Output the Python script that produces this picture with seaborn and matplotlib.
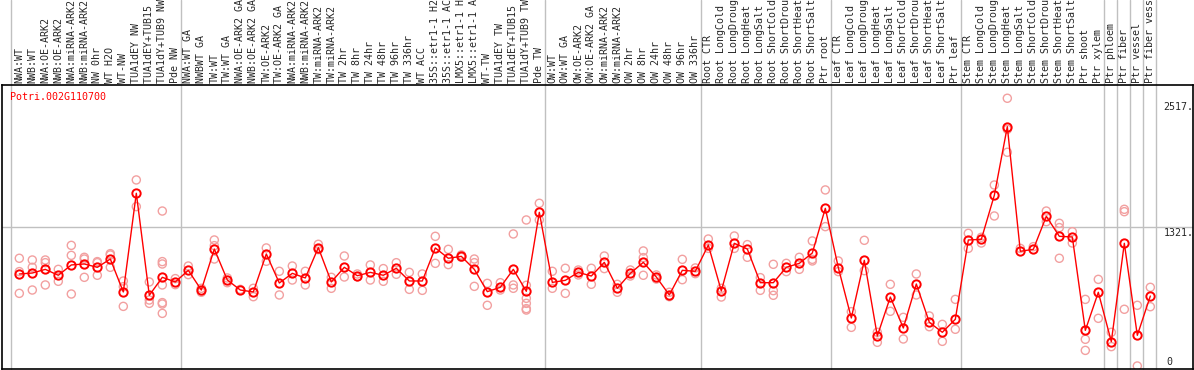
import matplotlib
matplotlib.use("Agg")
import matplotlib.pyplot as plt
import numpy as np
import pandas as pd
import seaborn as sns

# sample names (left to right)
samples = [
    "NWA:WT", "NWB:WT", "NWA:OE-ARK2", "NWB:OE-ARK2", "NWA:miRNA-ARK2", "NWB:miRNA-ARK2",
    "NW 0hr", "WT H2O", "WT-NW", "TUA1dEY NW", "TUA1dEY+TUB15 NW", "TUA1dY+TUB9 NW", "Pde NW",
    "NWA:WT GA", "NWBWT GA", "TW:WT", "TW:WT GA", "NWA:OE-ARK2 GA", "NWB:OE-ARK2 GA",
    "TW:OE-ARK2", "TW:OE-ARK2 GA", "NWA:miRNA-ARK2", "NWB:miRNA-ARK2", "TW:miRNA-ARK2",
    "TW:miRNA-ARK2", "TW 2hr", "TW 8hr", "TW 24hr", "TW 48hr", "TW 96hr", "TW 336hr",
    "WT ACC", "35S::etr1-1 H2O", "35S::etr1-1 ACC", "LMX5::etr1-1 H2O", "LMX5::etr1-1 ACC",
    "WT-TW", "TUA1dEY TW", "TUA1dEY+TUB15 TW", "TUA1dY+TUB9 TW", "Pde TW",
    "OW:WT", "OW:WT GA", "OW:OE-ARK2", "OW:OE-ARK2 GA", "OW:miRNA-ARK2", "OW:miRNA-ARK2",
    "OW 2hr", "OW 8hr", "OW 24hr", "OW 48hr", "OW 96hr", "OW 336hr",
    "Root CTR", "Root LongCold", "Root LongDrought", "Root LongHeat", "Root LongSalt",
    "Root ShortCold", "Root ShortDrought", "Root ShortHeat", "Root ShortSalt", "Ptr root",
    "Leaf CTR", "Leaf LongCold", "Leaf LongDrought", "Leaf LongHeat", "Leaf LongSalt",
    "Leaf ShortCold", "Leaf ShortDrought", "Leaf ShortHeat", "Leaf ShortSalt", "Ptr leaf",
    "Stem CTR", "Stem LongCold", "Stem LongDrought", "Stem LongHeat", "Stem LongSalt",
    "Stem ShortCold", "Stem ShortDrought", "Stem ShortHeat", "Stem ShortSalt", "Ptr shoot",
    "Ptr xylem", "Ptr phloem", "Ptr fiber", "Ptr vessel", "Ptr fiber vessel",
]

# mean expression per sample
means = [
    883, 892, 926, 871, 967, 976, 945, 1022, 716, 1633, 685, 852, 809,
    917, 734, 1115, 827, 734, 716, 1069, 799, 889, 846, 1128, 809, 945, 867, 898,
    871, 936, 818, 818, 1125, 1029, 1047, 926, 719, 759, 926, 722, 1456,
    805, 824, 898, 864, 991, 750, 889, 991, 855, 688, 917, 908,
    1152, 725, 1168, 1115, 802, 802, 945, 982, 1078, 1493,
    942, 474, 1010, 307, 669, 381, 790, 434, 341, 462,
    1199, 1205, 1614, 2252, 1094, 1112, 1419, 1233, 1227, 359,
    713, 254, 1168, 313, 678,
]

# individual replicates per sample
replicates = [
    [1029, 905, 703], [1013, 945, 734], [1013, 988, 781], [926, 815], [1149, 1056, 697],
    [1038, 1022, 852], [998, 988, 871], [1072, 1060, 945], [818, 765, 582], [1757, 1509],
    [809, 641, 610], [1468, 998, 976, 781, 617, 604, 517], [840, 784],
    [957, 877], [750, 713], [1199, 1146, 1022], [846, 802], [740], [750, 672],
    [1125, 1001], [908, 688], [957, 827], [908, 781], [1159, 1109], [852, 750],
    [1050, 855], [883, 858], [967, 827], [933, 815], [988, 880], [898, 740], [883, 731],
    [1233, 982], [1112, 970], [1060, 1038], [1022, 988, 768], [796, 592], [802, 734],
    [1255, 781, 750], [1385, 778, 657, 610, 561, 548], [1540, 1385],
    [908, 750], [936, 703], [920, 874], [936, 787], [1050, 933], [787, 713],
    [920, 864], [1097, 1035, 871], [874, 836], [713, 672], [1019, 830], [939, 886],
    [1208, 1121], [750, 669], [1236, 1121], [1156, 1038], [849, 731], [973, 728, 685],
    [982, 905], [1038, 926], [1190, 1019, 1004], [1664, 1323],
    [1004, 905], [533, 387], [1196, 914], [341, 248], [787, 536], [480, 279],
    [883, 688], [493, 393], [415, 257], [647, 369],
    [1261, 1121], [1224, 1171], [1710, 1422], [2516, 2227, 2014], [1121], [1137],
    [1468, 1369], [1354, 1314, 1029], [1276, 1171], [647, 276, 173],
    [833, 471], [341, 208], [1484, 1462, 555], [592, 28], [759, 579],
]

gene = "Potri.002G110700"
y_labels = ["2517.", "1321.", "0"]
y_top = 2642

x = np.arange(len(samples))
mean_df = pd.DataFrame({"x": x, "value": means})
rep_df = pd.DataFrame(
    [(i, v) for i, reps in enumerate(replicates) for v in reps], columns=["x", "value"]
)

sns.set_style("white")
plt.rcParams["font.family"] = ["DejaVu Sans Mono", "DejaVu Sans"]

fig = plt.figure(figsize=(11.94, 3.70), dpi=100)
ax = fig.add_axes([1.5 / 1194, 1 / 370, 1191.2 / 1194, 284.3 / 370])

grey = "#c0c0c0"
# group separators (run through the label strip too)
for b in [-0.65, 12.4, 40.4, 52.4, 62.4, 72.4, 83.4, 84.4, 85.4, 86.4, 87.4]:
    ax.axvline(b, ymin=0, ymax=369 / 284.3, color=grey, lw=1.0, clip_on=False, zorder=0)
ax.axhline(y_top / 2, color=grey, lw=1.0, zorder=0)

sns.scatterplot(data=rep_df, x="x", y="value", ax=ax, marker="o", s=34,
                facecolors="none", edgecolor="#f2a0a0", linewidth=1.0, zorder=2)
sns.lineplot(data=mean_df, x="x", y="value", ax=ax, color="red", linewidth=1.0,
             marker="o", markersize=6, markerfacecolor="none",
             markeredgecolor="red", markeredgewidth=1.4, zorder=3)

ax.set_xlim(-1.37, 90.26)
ax.set_ylim(0, y_top)
ax.set_xticks([])
ax.set_yticks([])
ax.set_xlabel("")
ax.set_ylabel("")
for sp in ax.spines.values():
    sp.set_color("black")
    sp.set_linewidth(1.2)

# sample labels above the plot, rotated (long ones run off the top, as in the original)
for i, name in enumerate(samples):
    ax.text(i, 1.007, name, rotation=90, ha="center", va="bottom",
            fontsize=7.2, transform=ax.get_xaxis_transform(), clip_on=False)

ax.text(8.5 / 1191.2, 0.957, gene, color="red", fontsize=7.2, ha="left", va="center",
        transform=ax.transAxes)

# value labels on the right
ax.text(0.9755, (369 - 107) / 284.3, y_labels[0], fontsize=7.2, ha="left", va="center",
        transform=ax.transAxes)
ax.text(0.9755, (369 - 232.5) / 284.3, y_labels[1], fontsize=7.2, ha="left", va="center",
        transform=ax.transAxes)
ax.text(0.978, (369 - 362) / 284.3, y_labels[2], fontsize=7.2, ha="left", va="center",
        transform=ax.transAxes)

fig.savefig("out.png", dpi=100)
